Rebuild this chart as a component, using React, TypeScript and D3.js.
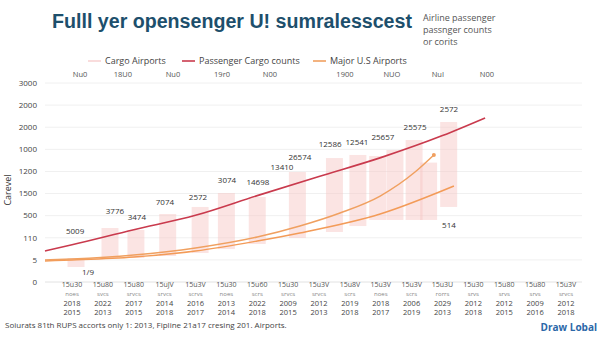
import React from "react";
import * as d3 from "d3";

// ---- data ----
const yTickLabels = ["0", "5", "110", "500", "1500", "1200", "1000", "2000", "2000", "3000"];
const topLabels = ["Nu0", "18U0", "Nu0", "19r0", "N00", "1900", "NUO", "NuI", "N00"];
const topPos = [0.26, 1.65, 3.27, 4.86, 6.41, 8.84, 10.36, 11.85, 13.44];

const xRow1 = ["15u30", "15u80", "15u80", "15uJV", "15u3V", "15u30", "15u60", "15u30", "15u3V", "15u8V", "15u3V", "15u3V", "15u3U", "15u30", "15u80", "15u80", "15u3V"];
const xRow2 = ["noes", "svcs", "srvcs", "srvcs", "scrvs", "noes", "scrs", "srvcs", "srvcs", "scrs", "noes", "scrs", "rorrs", "srvs", "srvs", "srvs", "srvcs"];
const xYear1 = ["2018", "2022", "2017", "2014", "2016", "2013", "2022", "2009", "2012", "2019", "2018", "2006", "2029", "2012", "2012", "2009", "2012"];
const xYear2 = ["2015", "2013", "2015", "2018", "2017", "2014", "2018", "2015", "2013", "2018", "2017", "2019", "2013", "2018", "2015", "2016", "2018"];

// Cargo Airports (floating bars)
const barPos = [0.13, 1.23, 2.07, 3.1, 4.15, 5.0, 6.0, 7.3, 8.5, 9.26, 9.9, 10.46, 11.08, 11.55, 12.2];
const barLow = [226, 362, 362, 392, 437, 497, 573, 663, 754, 844, 935, 935, 935, 935, 1131];
const barHigh = [362, 814, 784, 1025, 1131, 1342, 1281, 1658, 1869, 1915, 1900, 1990, 2141, 1800, 2412];

// Passenger Cargo counts
const redPos = [-0.875, 0, 2, 4, 6, 8, 10, 12, 13.38];
const redVals = [467, 561, 789, 1005, 1302, 1591, 1875, 2207, 2473];

// Major U.S Airports (two curves)
const orangeAPos = [-0.875, 0, 2, 4, 6, 7.38, 8.68, 9.98, 11.11, 11.72];
const orangeAVals = [332, 347, 407, 513, 678, 844, 1040, 1296, 1658, 1915];
const orangeBPos = [-0.875, 0, 2, 4, 6, 7.38, 9.98, 12.37];
const orangeBVals = [317, 332, 377, 467, 618, 739, 1025, 1447];

// value labels
const labelText = ["5009", "1/9", "3776", "3474", "7074", "2572", "3074", "14698", "13410", "26574", "12586", "12541", "25657", "25575", "2572", "514"];
const labelPos = [0.1, 0.52, 1.39, 2.1, 3.01, 4.08, 5.02, 6.02, 6.8, 7.38, 8.36, 9.23, 10.07, 11.11, 12.21, 12.21];
const labelVal = [769, 151, 1070, 980, 1206, 1281, 1538, 1508, 1734, 1884, 2080, 2111, 2186, 2337, 2608, 859];

const legendItems = ["Cargo Airports", "Passenger Cargo counts", "Major U.S Airports"];

export default function App() {
  const W = 600, H = 338;
  const x = d3.scaleLinear().domain([0, 16]).range([72, 566]);
  const y = d3.scaleLinear().domain([0, 3000]).range([282, 83]);
  const yTicks = d3.range(10).map((i) => (i * 3000) / 9);
  const step = x(1) - x(0);
  const bw = step * 0.55;

  const line = (pos: number[], vals: number[]) =>
    d3.line<number>().x((_, i) => x(pos[i])).y((v) => y(v)).curve(d3.curveMonotoneX)(vals) || "";

  const red = "#c93a4d";
  const orA = "#f0a060";
  const orB = "#f39b58";
  const pink = "#f6c3c0";
  const font = "'Open Sans', 'Noto Sans', sans-serif";

  const legendSw = [88, 182, 313];
  const legendCol = ["#f8d3d3", red, orA];

  return (
    <div style={{ position: "fixed", left: 0, top: 0 }}>
      <svg width={W} height={H} style={{ display: "block", background: "#fff" }} fontFamily={font}>
        {/* title */}
        <text x={52} y={28} fontFamily="'Liberation Sans', Arial, sans-serif" fontWeight="bold" fontSize={20} fill="#1d4f6c" textLength={360} lengthAdjust="spacingAndGlyphs">
          Fulll yer opensenger U! sumralesscest
        </text>
        {["Airline passenger", "passnger counts", "or corits"].map((t, i) => (
          <text key={t} x={423} y={21 + i * 12} fontSize={9} fill="#555">{t}</text>
        ))}

        {/* legend */}
        {legendItems.map((t, i) => (
          <g key={t}>
            <line x1={legendSw[i]} x2={legendSw[i] + 13} y1={61} y2={61} stroke={legendCol[i]} strokeWidth={1.6} />
            <text x={legendSw[i] + 17} y={61} dy="0.35em" fontSize={9} fill="#444">{t}</text>
          </g>
        ))}

        {/* top labels */}
        {topLabels.map((t, i) => (
          <text key={i} x={x(topPos[i])} y={74} dy="0.35em" textAnchor="middle" fontSize={7.5} fill="#555">{t}</text>
        ))}

        {/* grid */}
        {yTicks.map((v, i) => (
          <g key={i}>
            <line x1={45} x2={582} y1={y(v)} y2={y(v)} stroke={i === 0 ? "#e2e2e2" : "#f0f0f0"} strokeWidth={1} />
            <text x={37} y={y(v)} dy="0.35em" textAnchor="end" fontSize={8} fill="#444">{yTickLabels[i]}</text>
          </g>
        ))}
        <text transform="translate(11,190) rotate(-90)" textAnchor="middle" fontSize={9} fill="#333">Carevel</text>

        {/* bars */}
        {barPos.map((p, i) => (
          <rect key={i} x={x(p) - bw / 2} y={y(barHigh[i])} width={bw} height={y(barLow[i]) - y(barHigh[i])} fill={pink} opacity={0.45} />
        ))}

        {/* lines */}
        <path d={line(orangeBPos, orangeBVals)} fill="none" stroke={orB} strokeWidth={1.5} />
        <path d={line(orangeAPos, orangeAVals)} fill="none" stroke={orA} strokeWidth={1.5} />
        <circle cx={x(orangeAPos[orangeAPos.length - 1])} cy={y(orangeAVals[orangeAVals.length - 1])} r={2} fill={orA} />
        <path d={line(redPos, redVals)} fill="none" stroke={red} strokeWidth={1.6} />

        {/* value labels */}
        {labelText.map((t, i) => (
          <text key={i} x={x(labelPos[i])} y={y(labelVal[i])} dy="0.35em" textAnchor="middle" fontSize={8} fill="#333">{t}</text>
        ))}

        {/* x axis labels */}
        {xRow1.map((t, i) => (
          <g key={i} textAnchor="middle">
            <text x={x(i)} y={285} dy="0.35em" fontSize={7} fill="#555">{t}</text>
            <text x={x(i)} y={294} dy="0.35em" fontSize={6} fill="#888">{xRow2[i]}</text>
            <text x={x(i)} y={303} dy="0.35em" fontSize={7.5} fill="#444">{xYear1[i]}</text>
            <text x={x(i)} y={312} dy="0.35em" fontSize={7.5} fill="#444">{xYear2[i]}</text>
          </g>
        ))}

        {/* footer */}
        <text x={5} y={325} dy="0.35em" fontSize={8} fill="#444">
          Soiurats 81th RUPS accorts only 1: 2013, Fipline 21a17 cresing 201. Airports.
        </text>
        <text x={597} y={327} dy="0.35em" textAnchor="end" fontSize={10} fontWeight="bold" fill="#2c67a8">Draw Lobal</text>
      </svg>
    </div>
  );
}
